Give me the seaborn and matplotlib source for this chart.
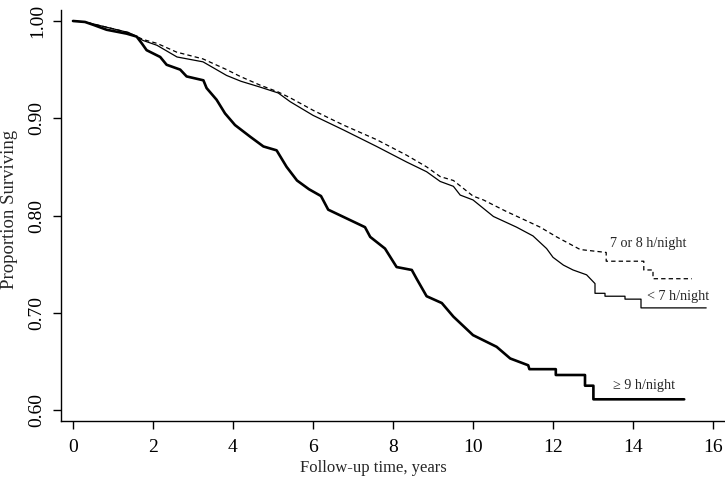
import matplotlib
matplotlib.use("Agg")
import matplotlib.pyplot as plt
import seaborn as sns
import pandas as pd

# ---- data ----
short_t = [0, 0.3, 0.6, 1.0, 1.4, 1.75, 2.1, 2.6, 3.25, 3.84, 4.2, 4.68, 5.13, 5.43,
           6.0, 6.76, 7.59, 8.34, 8.84, 9.18, 9.51, 9.68, 10.0, 10.51, 11.09, 11.5,
           11.84, 12.0, 12.26, 12.5, 12.84, 13.05, 13.05, 13.3, 13.3, 13.8, 13.8,
           14.2, 14.2, 15.83]
short_s = [1.0, 0.999, 0.996, 0.992, 0.988, 0.980, 0.975, 0.963, 0.958, 0.944, 0.938,
           0.932, 0.926, 0.917, 0.903, 0.888, 0.871, 0.855, 0.845, 0.835, 0.830, 0.821,
           0.816, 0.799, 0.788, 0.779, 0.766, 0.757, 0.749, 0.744, 0.739, 0.730, 0.720,
           0.720, 0.717, 0.717, 0.714, 0.714, 0.705, 0.705]

mid_t = [0, 0.3, 0.6, 1.0, 1.4, 1.75, 2.1, 2.59, 3.25, 3.84, 4.18, 4.68, 5.13, 5.43,
         6.01, 6.76, 7.59, 8.34, 8.84, 9.18, 9.51, 10.0, 10.26, 10.84, 11.0, 11.68,
         12.09, 12.68, 13.33, 13.33, 14.27, 14.27, 14.5, 14.5, 15.47]
mid_s = [1.0, 0.999, 0.996, 0.992, 0.988, 0.981, 0.977, 0.968, 0.961, 0.950, 0.943,
         0.934, 0.927, 0.921, 0.908, 0.893, 0.878, 0.862, 0.850, 0.840, 0.836, 0.820,
         0.816, 0.804, 0.801, 0.788, 0.778, 0.765, 0.762, 0.753, 0.753, 0.744, 0.744,
         0.735, 0.735]

long_t = [0, 0.3, 0.51, 0.84, 1.34, 1.59, 1.72, 1.84, 2.18, 2.34, 2.68, 2.84, 3.26,
          3.34, 3.59, 3.8, 4.05, 4.43, 4.76, 5.09, 5.34, 5.6, 5.9, 6.2, 6.38, 6.84,
          7.3, 7.43, 7.8, 8.09, 8.47, 8.59, 8.84, 9.22, 9.51, 10.0, 10.59, 10.93,
          11.38, 11.41, 12.07, 12.07, 12.8, 12.8, 13.01, 13.01, 15.28]
long_s = [1.0, 0.999, 0.996, 0.991, 0.987, 0.984, 0.977, 0.970, 0.963, 0.955, 0.950,
          0.943, 0.939, 0.931, 0.919, 0.905, 0.893, 0.881, 0.871, 0.867, 0.850, 0.836,
          0.827, 0.820, 0.806, 0.797, 0.788, 0.778, 0.766, 0.747, 0.744, 0.735, 0.717,
          0.710, 0.696, 0.677, 0.665, 0.653, 0.646, 0.642, 0.642, 0.636, 0.636, 0.625,
          0.625, 0.611, 0.611]

labels = ["< 7 h/night", "7 or 8 h/night", "\u2265 9 h/night"]
x_ticks = [0, 2, 4, 6, 8, 10, 12, 14, 16]
y_ticks = [0.60, 0.70, 0.80, 0.90, 1.00]
x_label = "Follow-up time, years"
y_label = "Proportion Surviving"

# ---- plot ----
sns.set_style("white")
plt.rcParams["font.family"] = ["Liberation Serif", "DejaVu Serif"]

fig = plt.figure(figsize=(7.25, 4.83), dpi=100)
ax = fig.add_axes([61 / 725, 1 - 421 / 483, 1 - 61 / 725, (421 - 10) / 483])

df_short = pd.DataFrame({"t": short_t, "s": short_s})
df_mid = pd.DataFrame({"t": mid_t, "s": mid_s})
df_long = pd.DataFrame({"t": long_t, "s": long_s})

sns.lineplot(data=df_short, x="t", y="s", ax=ax, color="black", linewidth=0.9,
             estimator=None, sort=False)
sns.lineplot(data=df_mid, x="t", y="s", ax=ax, color="black", linewidth=0.9,
             estimator=None, sort=False)
ax.lines[-1].set_linestyle((0, (3.5, 2.5)))
sns.lineplot(data=df_long, x="t", y="s", ax=ax, color="black", linewidth=1.9,
             estimator=None, sort=False)

ax.text(13.43, 0.7707, labels[1], fontsize=10.2, va="center", ha="left")
ax.text(14.35, 0.7172, labels[0], fontsize=10.2, va="center", ha="left")
ax.text(13.5, 0.6257, labels[2], fontsize=10.2, va="center", ha="left")

ax.set_xlim(-0.3, 16.3)
ax.set_ylim(0.5887, 1.0113)
ax.set_xticks(x_ticks)
ax.set_xticklabels([str(v) for v in x_ticks])
ax.set_yticks(y_ticks)
ax.set_yticklabels([f"{v:.2f}" for v in y_ticks], rotation=90, va="center")
ax.tick_params(axis="both", direction="out", length=6, width=1, colors="black",
               labelsize=14, pad=5)
ax.tick_params(axis="x", bottom=True, pad=7)
ax.tick_params(axis="y", left=True)

for side in ["top", "right"]:
    ax.spines[side].set_visible(False)
for side in ["left", "bottom"]:
    ax.spines[side].set_color("black")
    ax.spines[side].set_linewidth(1.0)

ax.set_xlabel(x_label, fontsize=12)
ax.set_ylabel(y_label, fontsize=13.5)
ax.xaxis.label.set_va("center")
ax.yaxis.label.set_va("center")
ax.xaxis.set_label_coords(0.47, -0.114)
ax.yaxis.set_label_coords(-0.077, 0.515)
ax.grid(False)

fig.savefig("out.png", dpi=100)
